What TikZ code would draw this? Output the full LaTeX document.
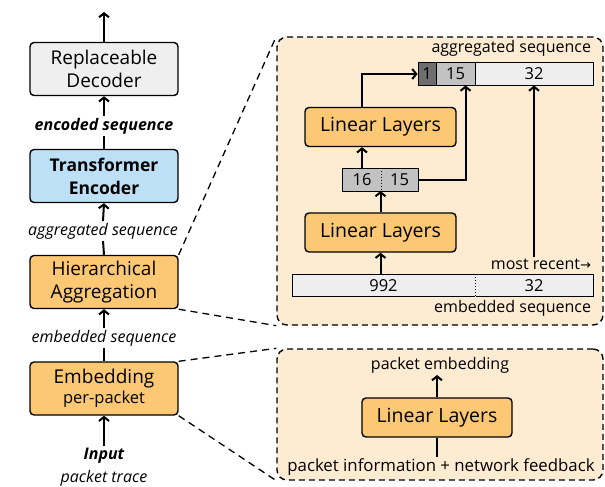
\documentclass[tikz,border=0pt]{standalone}
\usepackage{fontspec}
\setmainfont{Open Sans}
\newfontfamily\symfont{DejaVu Sans}
\usetikzlibrary{arrows.meta}

\definecolor{decgrey}{HTML}{EFEFEF}
\definecolor{encblue}{HTML}{BDE0F7}
\definecolor{aggorange}{HTML}{FCC874}
\definecolor{panelpeach}{HTML}{FDEBD2}
\definecolor{celldark}{HTML}{6E6E6E}
\definecolor{cellmid}{HTML}{C2C2C2}
\definecolor{celllight}{HTML}{EEEEEE}

\tikzset{
  blockbox/.style={draw, line width=1.4pt, rounded corners=4pt, minimum width=148pt,
    minimum height=53pt, align=center, font=\fontsize{19}{23}\selectfont},
  layerbox/.style={draw, line width=1.4pt, rounded corners=4pt, fill=aggorange,
    minimum width=151pt, minimum height=39pt, font=\fontsize{19.5}{22}\selectfont},
  flowlabel/.style={font=\fontsize{16}{19}\selectfont\itshape, inner sep=1pt},
  seqlabel/.style={font=\fontsize{16}{18}\selectfont, inner sep=1pt},
  cellbox/.style={draw, line width=1pt, minimum height=22pt, inner sep=0pt,
    font=\fontsize{16.5}{18}\selectfont},
  panelbox/.style={draw, dashed, dash pattern=on 6pt off 4pt, line width=1.4pt,
    rounded corners=10pt, fill=panelpeach},
  zoomline/.style={dashed, dash pattern=on 7pt off 5pt, line width=1.3pt},
}

\begin{document}
\begin{tikzpicture}[x=1pt, y=-1pt, line width=2pt, >={Straight Barb[length=4pt,width=10pt]}]
        \useasboundingbox (0,0) rectangle (605,487);
        %% Panels behind the detail views
        \node[panelbox, minimum width=326pt, minimum height=288pt] (aggpanel) at (440,181) {};
        \node[panelbox, minimum width=326pt, minimum height=131pt] (embpanel) at (440,414.5) {};
        %% Main pipeline
        \node[blockbox, fill=decgrey] (decoder) at (104,69) {Replaceable\\Decoder};
        \node[flowlabel, font=\fontsize{16}{19}\selectfont\bfseries\itshape] (encseq) at (104,126) {encoded sequence};
        \node[blockbox, fill=encblue, font=\fontsize{17.5}{23}\selectfont\bfseries] (encoder) at (104,176) {Transformer\\Encoder};
        \node[flowlabel] (aggseq) at (103,231) {aggregated sequence};
        \node[blockbox, fill=aggorange] (hier) at (104,282) {Hierarchical\\Aggregation};
        \node[flowlabel] (embseq) at (104,338) {embedded sequence};
        \node[blockbox, fill=aggorange] (embed) at (104,388.5)
            {Embedding\\[-3pt]{\fontsize{16.5}{19}\selectfont per-packet}};
        \node[flowlabel, font=\fontsize{16}{19}\selectfont\bfseries\itshape] (input) at (104,456) {Input};
        \node[flowlabel] (trace) at (104,478) {packet trace};
        \coordinate (output) at (104,12);
        \draw[->] (decoder.north) -- (output);
        \draw[->] (encseq.north) -- (decoder.south);
        \draw (encoder.north) -- (encseq.south);
        \draw[->] (aggseq.north) -- (encoder.south);
        \draw (hier.north) -- (aggseq.south);
        \draw[->] (embseq.north) -- (hier.south);
        \draw (embed.north) -- (embseq.south);
        \draw[->] (input.north) -- (embed.south);
        %% Zoom lines
        \draw[zoomline] (hier.north east) -- (aggpanel.north west);
        \draw[zoomline] (hier.south east) -- (aggpanel.south west);
        \draw[zoomline] (embed.north east) -- (embpanel.north west);
        \draw[zoomline] (embed.south east) -- (embpanel.south west);
        %% Hierarchical aggregation detail
        \node[seqlabel, anchor=east] (aggtitle) at (593,48) {aggregated sequence};
        \node[cellbox, fill=celldark, minimum width=18pt] (a1) at (427,74) {1};
        \node[cellbox, fill=cellmid, minimum width=39pt] (a15) at (455.5,74) {15};
        \node[cellbox, fill=celllight, minimum width=118pt] (a32) at (534,74) {32};
        \node[layerbox] (lltop) at (380.5,127) {Linear Layers};
        \node[cellbox, draw=none, minimum width=38pt] (m16) at (362,179.5) {16};
        \node[cellbox, draw=none, minimum width=37pt] (m15) at (399.5,179.5) {15};
        \draw[line width=1pt, fill=cellmid] (m16.north west) rectangle (m15.south east);
        \node[cellbox, draw=none] at (m16) {16};
        \node[cellbox, draw=none] at (m15) {15};
        \draw[line width=1pt, dotted] (m16.north east) -- (m16.south east);
        \node[layerbox] (llbot) at (380.5,232.5) {Linear Layers};
        \node[cellbox, fill=celllight, minimum width=183pt] (e992) at (383.5,285.5) {992};
        \node[cellbox, fill=celllight, minimum width=118pt] (e32) at (534,285.5) {32};
        \draw[line width=1pt, draw=celllight] (e992.north east) -- (e992.south east);
        \draw[line width=1pt, dotted] (e992.north east) -- (e992.south east);
        \node[seqlabel, anchor=east] (recent) at (593,264) {most recent{\symfont\fontsize{13}{16}\selectfont →}};
        \node[seqlabel, anchor=east] (embtitle) at (593,308) {embedded sequence};
        \draw[->] (e992.north -| m15.west) -- (llbot.south -| m15.west);
        \draw[->] (llbot.north -| m15.west) -- (m15.south west);
        \draw[->] (m16.north) -- (lltop.south -| m16.north);
        \draw[->] (lltop.north -| m16.north) |- (a1.west);
        \draw[->] (m15.east) -| ([xshift=10pt]a15.south);
        \draw[->] (a32.south |- recent.north) -- (a32.south);
        %% Per-packet embedding detail
        \node[seqlabel] (pktemb) at (440,365) {packet embedding};
        \node[layerbox, minimum width=150pt] (llpkt) at (437,417.5) {Linear Layers};
        \node[seqlabel, font=\fontsize{16.8}{19}\selectfont] (pktinfo) at (441,467) {packet information + network feedback};
        \draw[->] (llpkt.north) -- (pktemb.south -| llpkt.north);
        \draw (pktinfo.north -| llpkt.south) -- (llpkt.south);
    \end{tikzpicture}
\end{document}
